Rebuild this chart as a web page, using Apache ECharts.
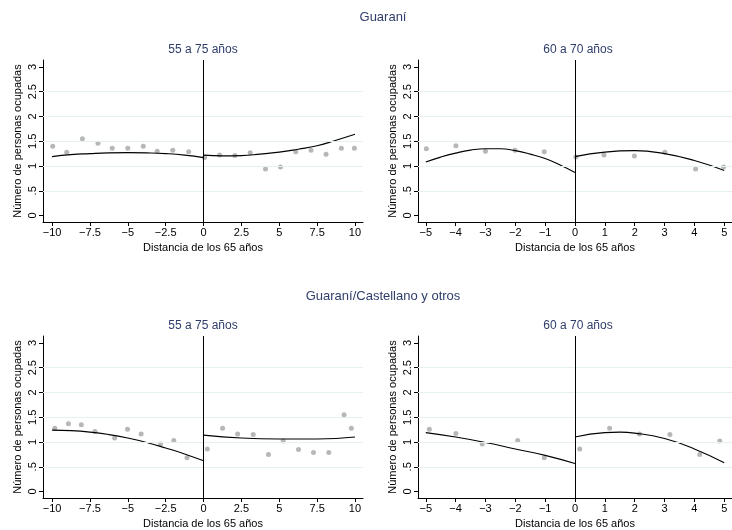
<!DOCTYPE html>
<html>
<head>
<meta charset="utf-8">
<script src="https://cdn.jsdelivr.net/npm/echarts@6/dist/echarts.min.js"></script>
<style>
  html, body { margin: 0; padding: 0; background: #fff; }
  #chart { width: 732px; height: 530px; }
</style>
</head>
<body>
<div id="chart"></div>
<script>
// tick labels
const xTicksWide = [-10, -7.5, -5, -2.5, 0, 2.5, 5, 7.5, 10];
const xTicksNarrow = [-5, -4, -3, -2, -1, 0, 1, 2, 3, 4, 5];
const yTicks = [0, 0.5, 1, 1.5, 2, 2.5, 3];
const yGrid = [0.5, 1, 1.5, 2, 2.5];

// Guaraní, 55 a 75 años
const guaWideX = [-9.96, -9.03, -8.0, -6.97, -6.03, -5.0, -3.98, -3.06, -2.03, -0.98, 0.07, 1.06, 2.07, 3.08, 4.09, 5.08, 6.09, 7.1, 8.09, 9.1, 9.96];
const guaWideY = [1.40, 1.28, 1.55, 1.46, 1.36, 1.36, 1.40, 1.30, 1.32, 1.29, 1.17, 1.22, 1.21, 1.27, 0.94, 0.98, 1.29, 1.32, 1.24, 1.36, 1.36];
const guaWideFitLX = [-10, -8.75, -7.5, -6.25, -5, -3.75, -2.5, -1.25, 0];
const guaWideFitLY = [1.19, 1.23, 1.25, 1.265, 1.27, 1.265, 1.25, 1.22, 1.17];
const guaWideFitRX = [0, 1.25, 2.5, 3.75, 5, 6.25, 7.5, 8.75, 10];
const guaWideFitRY = [1.22, 1.205, 1.21, 1.24, 1.28, 1.34, 1.41, 1.52, 1.64];

// Guaraní, 60 a 70 años
const guaNarrowX = [-4.98, -3.99, -3.0, -2.01, -1.03, 0.03, 0.97, 1.99, 3.01, 4.04, 4.98];
const guaNarrowY = [1.35, 1.41, 1.30, 1.32, 1.29, 1.18, 1.22, 1.20, 1.28, 0.94, 0.98];
const guaNarrowFitLX = [-5, -4.5, -4, -3.5, -3, -2.5, -2, -1.5, -1, -0.5, 0];
const guaNarrowFitLY = [1.08, 1.18, 1.26, 1.32, 1.35, 1.35, 1.31, 1.24, 1.15, 1.02, 0.87];
const guaNarrowFitRX = [0, 1, 2, 3, 4, 5];
const guaNarrowFitRY = [1.19, 1.28, 1.31, 1.25, 1.11, 0.91];

// Guaraní/Castellano y otros, 55 a 75 años
const mixWideX = [-9.82, -8.92, -8.07, -7.17, -5.87, -5.02, -4.12, -2.84, -1.96, -1.09, 0.25, 1.26, 2.25, 3.28, 4.29, 5.26, 6.27, 7.26, 8.27, 9.28, 9.76];
const mixWideY = [1.28, 1.37, 1.35, 1.21, 1.08, 1.26, 1.16, 0.96, 1.03, 0.68, 0.86, 1.28, 1.16, 1.15, 0.75, 1.02, 0.85, 0.79, 0.79, 1.55, 1.28];
const mixWideFitLX = [-10, -8.75, -7.5, -6.25, -5, -3.75, -2.5, -1.25, 0];
const mixWideFitLY = [1.24, 1.23, 1.20, 1.15, 1.08, 0.99, 0.88, 0.76, 0.62];
const mixWideFitRX = [0, 2.5, 5, 7.5, 10];
const mixWideFitRY = [1.14, 1.08, 1.06, 1.06, 1.10];

// Guaraní/Castellano y otros, 60 a 70 años
const mixNarrowX = [-4.88, -3.99, -3.11, -1.92, -1.03, 0.16, 1.16, 2.16, 3.18, 4.18, 4.85];
const mixNarrowY = [1.26, 1.17, 0.96, 1.03, 0.68, 0.86, 1.28, 1.16, 1.15, 0.75, 1.02];
const mixNarrowFitLX = [-5, -4, -3, -2, -1, 0];
const mixNarrowFitLY = [1.19, 1.10, 0.99, 0.86, 0.73, 0.565];
const mixNarrowFitRX = [0, 1, 1.5, 2, 3, 4, 5];
const mixNarrowFitRY = [1.10, 1.19, 1.20, 1.18, 1.07, 0.86, 0.58];

const FONT = "'Liberation Sans', Arial, sans-serif";
const TITLE_COLOR = "#2f3d6b";
const zip = (xs, ys) => xs.map((x, i) => [x, ys[i]]);
const fmtNum = (v) => {
  let s = String(v);
  if (s.startsWith("0.")) s = s.slice(1);
  return s.replace("-", "\u2212");
};

const panels = [
  { left: 43, top: 60, width: 320, xmin: -10.6, xmax: 10.53, ticks: xTicksWide,
    pts: zip(guaWideX, guaWideY), fitL: zip(guaWideFitLX, guaWideFitLY), fitR: zip(guaWideFitRX, guaWideFitRY) },
  { left: 418, top: 60, width: 319, xmin: -5.26, xmax: 5.26, ticks: xTicksNarrow,
    pts: zip(guaNarrowX, guaNarrowY), fitL: zip(guaNarrowFitLX, guaNarrowFitLY), fitR: zip(guaNarrowFitRX, guaNarrowFitRY) },
  { left: 43, top: 336, width: 320, xmin: -10.6, xmax: 10.53, ticks: xTicksWide,
    pts: zip(mixWideX, mixWideY), fitL: zip(mixWideFitLX, mixWideFitLY), fitR: zip(mixWideFitRX, mixWideFitRY) },
  { left: 418, top: 336, width: 319, xmin: -5.26, xmax: 5.26, ticks: xTicksNarrow,
    pts: zip(mixNarrowX, mixNarrowY), fitL: zip(mixNarrowFitLX, mixNarrowFitLY), fitR: zip(mixNarrowFitRX, mixNarrowFitRY) },
];

const grid = [], xAxis = [], yAxis = [], series = [];
panels.forEach((p, i) => {
  grid.push({ left: p.left, top: p.top, width: p.width, height: 162 });
  xAxis.push({
    type: "value", gridIndex: i, min: p.xmin, max: p.xmax,
    name: "Distancia de los 65 años", nameLocation: "middle", nameGap: 20,
    nameTextStyle: { fontFamily: FONT, fontSize: 11, color: "#000" },
    axisLine: { onZero: false, lineStyle: { color: "#000", width: 1 } },
    axisTick: { customValues: p.ticks, length: 4, lineStyle: { color: "#000" } },
    axisLabel: { customValues: p.ticks, formatter: fmtNum, margin: 5,
      fontFamily: FONT, fontSize: 11, color: "#000" },
    splitLine: { show: false },
  });
  yAxis.push({
    type: "value", gridIndex: i, min: -0.13, max: 3.14,
    name: "Número de personas ocupadas", nameLocation: "middle", nameGap: 20,
    nameTextStyle: { fontFamily: FONT, fontSize: 11, color: "#000" },
    axisLine: { show: true, onZero: false, lineStyle: { color: "#000", width: 1 } },
    axisTick: { show: true, customValues: yTicks, length: 4, lineStyle: { color: "#000" } },
    axisLabel: { customValues: yTicks, formatter: fmtNum, rotate: 90, margin: 5,
      fontFamily: FONT, fontSize: 11, color: "#000" },
    splitLine: { show: false },
  });
  series.push({
    type: "scatter", xAxisIndex: i, yAxisIndex: i, data: p.pts,
    symbolSize: 5, itemStyle: { color: "#a5a5a5" }, z: 3,
    markLine: {
      silent: true, symbol: "none", label: { show: false }, animation: false,
      data: [
        ...yGrid.map((v) => ({ yAxis: v, lineStyle: { color: "#e6eff1", width: 1, type: "solid" } })),
        { xAxis: 0, lineStyle: { color: "#000", width: 1, type: "solid" } },
      ],
    },
  });
  [p.fitL, p.fitR].forEach((d) => {
    series.push({
      type: "line", xAxisIndex: i, yAxisIndex: i, data: d, smooth: true,
      showSymbol: false, lineStyle: { color: "#000", width: 1.1 }, z: 4,
    });
  });
});

const titleText = (text, x, y, size) => ({
  type: "text", x: x, y: y,
  style: { text: text, fill: TITLE_COLOR, fontFamily: FONT, fontSize: size,
    textAlign: "center", textVerticalAlign: "middle" },
});

const chart = echarts.init(document.getElementById("chart"), null, { renderer: "canvas" });
chart.setOption({
  animation: false,
  backgroundColor: "#fff",
  grid, xAxis, yAxis, series,
  graphic: [
    titleText("Guaraní", 383, 17, 13),
    titleText("Guaraní/Castellano y otros", 383, 296, 13),
    titleText("55 a 75 años", 203, 50, 12),
    titleText("60 a 70 años", 578, 50, 12),
    titleText("55 a 75 años", 203, 326, 12),
    titleText("60 a 70 años", 578, 326, 12),
  ],
});
</script>
</body>
</html>
